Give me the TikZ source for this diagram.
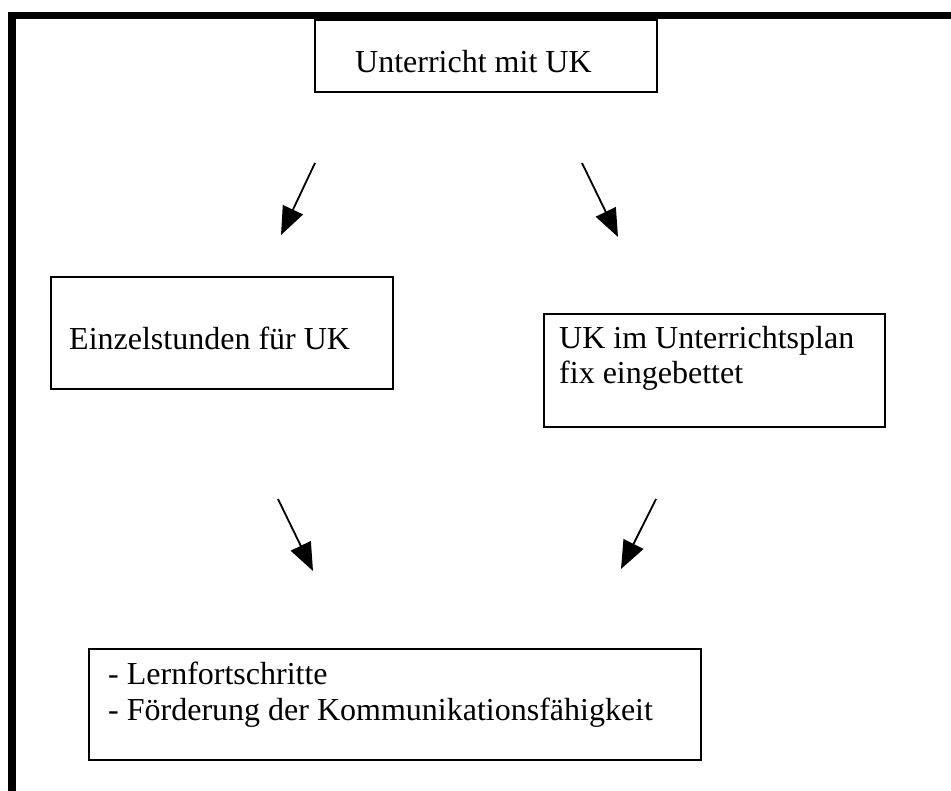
\documentclass[tikz,border=0pt]{standalone}
\usepackage{fontspec}
\setmainfont{Liberation Serif}
\usetikzlibrary{arrows.meta}
\tikzset{
  box/.style={draw=black, line width=1.6pt, inner sep=0pt, anchor=north west},
  txt/.style={inner sep=0pt, anchor=base west, font=\fontsize{32}{36}\selectfont},
  arr/.style={line width=1.8pt, -{Triangle[length=28pt,width=22pt]}},
  frame/.style={line width=7.5pt}
}
\begin{document}
\begin{tikzpicture}[x=1pt,y=-1pt]
\useasboundingbox (0,0) rectangle (951,791);
% outer frame
\draw[frame] (12,791) -- (12,15.5) -- (951,15.5);
% boxes
\node[box, minimum width=342pt, minimum height=72pt] (top) at (314,19) {};
\node[box, minimum width=342pt, minimum height=112pt] (left) at (50,276) {};
\node[box, minimum width=341pt, minimum height=113pt] (right) at (543,313) {};
\node[box, minimum width=612pt, minimum height=111pt] (bottom) at (88,648) {};
% texts
\node[txt] (ttop) at (355,73) {Unterricht mit UK};
\node[txt] (tleft) at (69,350) {Einzelstunden für UK};
\node[txt] (tright1) at (559,349) {UK im Unterrichtsplan};
\node[txt] (tright2) at (559,384) {fix eingebettet};
\node[txt] (tbot1) at (108,684) {- Lernfortschritte};
\node[txt] (tbot2) at (108,720) {- Förderung der Kommunikationsfähigkeit};
% arrow endpoints
\coordinate (a1s) at (315,163);
\coordinate (a1e) at (281,235);
\coordinate (a2s) at (582,163);
\coordinate (a2e) at (618,237);
\coordinate (a3s) at (278,499);
\coordinate (a3e) at (313,571);
\coordinate (a4s) at (656,499);
\coordinate (a4e) at (621,569);
\draw[arr] (a1s) -- (a1e);
\draw[arr] (a2s) -- (a2e);
\draw[arr] (a3s) -- (a3e);
\draw[arr] (a4s) -- (a4e);
\end{tikzpicture}
\end{document}
